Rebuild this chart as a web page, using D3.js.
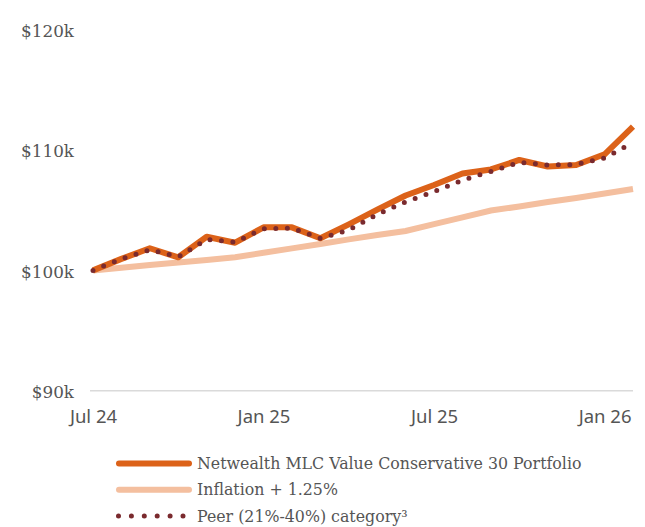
<!DOCTYPE html>
<html>
<head>
<meta charset="utf-8">
<script src="https://cdn.jsdelivr.net/npm/d3@7"></script>
<style>
  body { margin: 0; background: #fff; }
  svg { display: block; }
  .ylab text { font-family: "DejaVu Serif", serif; font-size: 16.8px; fill: #555; }
  .xlab text { font-family: "Noto Sans", sans-serif; font-size: 18.5px; fill: #555; }
  .legend text { font-family: "DejaVu Serif", serif; font-size: 15.8px; fill: #555; }
</style>
</head>
<body>
<svg width="645" height="527"></svg>
<script>
// monthly points, Jul 24 .. Feb 26
var months = ["2024-07","2024-08","2024-09","2024-10","2024-11","2024-12",
              "2025-01","2025-02","2025-03","2025-04","2025-05","2025-06",
              "2025-07","2025-08","2025-09","2025-10","2025-11","2025-12",
              "2026-01","2026-02"];
var portfolio = [100.0, 100.96, 101.84, 101.09, 102.80, 102.30, 103.58, 103.58, 102.67, 103.83,
                 105.05, 106.23, 107.10, 108.05, 108.39, 109.18, 108.64, 108.76, 109.65, 111.95];
var inflation = [100.0, 100.22, 100.44, 100.65, 100.87, 101.09, 101.46, 101.83, 102.20, 102.58,
                 102.94, 103.28, 103.85, 104.41, 104.98, 105.31, 105.69, 106.02, 106.39, 106.77];
var peer = [100.0, 100.96, 101.72, 101.13, 102.58, 102.35, 103.47, 103.52, 102.67, 103.36,
            104.66, 105.70, 106.54, 107.50, 108.22, 108.99, 108.76, 108.80, 109.35, 110.63];
var xTicks = ["2024-07", "2025-01", "2025-07", "2026-01"];
var xTickLabels = ["Jul 24", "Jan 25", "Jul 25", "Jan 26"];
var yTicks = [90, 100, 110, 120];

var seriesNames = ["Netwealth MLC Value Conservative 30 Portfolio", "Inflation + 1.25%", "Peer (21%-40%) category\u00b3"];

var svg = d3.select("svg");

var x = d3.scalePoint().domain(months).range([93, 633]);
var y = d3.scaleLinear().domain([90, 120]).range([390.7, 29.8]);

// bottom grid line
svg.append("line")
   .attr("x1", 90).attr("x2", 633)
   .attr("y1", y(90)).attr("y2", y(90))
   .attr("stroke", "#dadada").attr("stroke-width", 1.5);

// y labels
var yAxis = svg.append("g").attr("class", "ylab")
   .attr("transform", "translate(74,1.5)")
   .call(d3.axisLeft(y).tickValues(yTicks).tickSize(0).tickPadding(0)
          .tickFormat(function(d) { return "$" + d + "k"; }));
yAxis.select(".domain").remove();
yAxis.selectAll("text").attr("fill", "#555");

// x labels
var xAxis = svg.append("g").attr("class", "xlab")
   .attr("transform", "translate(0,410)")
   .call(d3.axisBottom(x).tickValues(xTicks).tickSize(0).tickPadding(0)
          .tickFormat(function(d, i) { return xTickLabels[i]; }));
xAxis.select(".domain").remove();
xAxis.selectAll("text").attr("fill", "#555");

var line = d3.line()
  .x(function(d, i) { return x(months[i]); })
  .y(function(d) { return y(d); });

svg.append("path").datum(inflation)
   .attr("d", line).attr("fill", "none")
   .attr("stroke", "#f4bf9f").attr("stroke-width", 6);

svg.append("path").datum(portfolio)
   .attr("d", line).attr("fill", "none")
   .attr("stroke", "#dc6219").attr("stroke-width", 6)
   .attr("stroke-linejoin", "round");

svg.append("path").datum(peer)
   .attr("d", line).attr("fill", "none")
   .attr("stroke", "#7a2a2e").attr("stroke-width", 5)
   .attr("stroke-linecap", "round")
   .attr("stroke-dasharray", "0 11.5");

// legend
var legend = svg.append("g").attr("class", "legend");
var rows = [
  { name: seriesNames[0], color: "#dc6219", dots: false },
  { name: seriesNames[1], color: "#f4bf9f", dots: false },
  { name: seriesNames[2], color: "#7a2a2e", dots: true }
];
rows.forEach(function(r, i) {
  var cy = 463.5 + i * 26.3;
  var sw = legend.append("line")
    .attr("x1", 119).attr("x2", 189)
    .attr("y1", cy).attr("y2", cy)
    .attr("stroke", r.color)
    .attr("stroke-linecap", "round");
  if (r.dots) {
    sw.attr("x1", 118.5).attr("x2", 183).attr("stroke-width", 5).attr("stroke-dasharray", "0 12.9");
  } else {
    sw.attr("stroke-width", 6);
  }
  legend.append("text")
    .attr("x", 197).attr("y", cy)
    .attr("dy", "0.35em")
    .text(r.name);
});
</script>
</body>
</html>
